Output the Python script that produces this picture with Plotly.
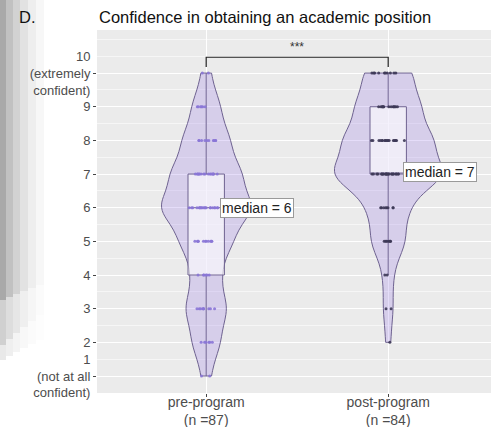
import numpy as np
import plotly.graph_objects as go

# ---------------- data ----------------
ratings = [1, 2, 3, 4, 5, 6, 7, 8, 9, 10]
pre_counts = [2, 6, 9, 6, 11, 20, 15, 10, 6, 2]      # n = 87
post_counts = [0, 1, 2, 2, 7, 8, 23, 18, 13, 10]     # n = 84
groups = ["pre-program", "post-program"]
group_n = [87, 84]
medians = [6, 7]
y_tick_labels = ["1<br>(not at all<br>confident)", "2", "3", "4", "5", "6", "7", "8", "9",
                 "10<br>(extremely<br>confident)"]
signif_label = "***"
bracket_low, bracket_high = 10.18, 10.47

pre_vals = np.repeat(ratings, pre_counts)
post_vals = np.repeat(ratings, post_counts)

# ---------------- styles ----------------
FONT = "Liberation Sans, Arial, sans-serif"
violin_fill = "rgba(150,120,230,0.25)"
outline = "#6e6290"
box_fill = "rgba(255,255,255,0.62)"
pt_colors = ["#8a76d6", "#3d3957"]
violin_widths = [0.49, 0.59]

fig = go.Figure()

for i, vals in enumerate([pre_vals, post_vals]):
    fig.add_trace(go.Violin(
        y=vals, x0=i + 1, width=violin_widths[i], spanmode="hard", bandwidth=0.5,
        fillcolor=violin_fill, line=dict(color=outline, width=1),
        points=False, box_visible=False, meanline_visible=False,
        hoverinfo="skip", showlegend=False))

for i, vals in enumerate([pre_vals, post_vals]):
    fig.add_trace(go.Box(
        y=vals, x0=i + 1, width=0.2, boxpoints="all", jitter=0.95, pointpos=0,
        marker=dict(size=3, color=pt_colors[i], opacity=0.9),
        fillcolor=box_fill, line=dict(color=outline, width=1), whiskerwidth=0,
        hoverinfo="skip", showlegend=False))

# significance bracket
fig.add_trace(go.Scatter(
    x=[1, 1, 2, 2], y=[bracket_low, bracket_high, bracket_high, bracket_low],
    mode="lines", line=dict(color="#222222", width=1.2), hoverinfo="skip",
    showlegend=False))

annotations = [
    dict(x=1.5, y=10.78, text=signif_label, showarrow=False, xref="x", yref="y",
         font=dict(family=FONT, size=12, color="#333333")),
]
label_x = [1.077, 2.082]
label_y = [6.0, 7.05]
for i, m in enumerate(medians):
    annotations.append(dict(
        x=label_x[i], y=label_y[i], xref="x", yref="y", xanchor="left", yanchor="middle",
        text=f"median = {m}", showarrow=False, bgcolor="white", bordercolor="#9a9a9a",
        borderwidth=1, borderpad=1, font=dict(family=FONT, size=14, color="#222222")))

# titles
W, H = 491, 427
L, R, T, B = 97, 0, 30, 34
pw, ph = W - L - R, H - T - B
def px_x(p):
    return (p - L) / pw
def px_y(p):
    return (H - B - p) / ph

annotations.append(dict(x=px_x(97), y=px_y(17), xref="paper", yref="paper", xanchor="left",
                        yanchor="middle", text="Confidence in obtaining an academic position",
                        showarrow=False, font=dict(family=FONT, size=16.5, color="#111111")))
annotations.append(dict(x=px_x(17), y=px_y(17), xref="paper", yref="paper", xanchor="left",
                        yanchor="middle", text="D.", showarrow=False,
                        font=dict(family=FONT, size=16.5, color="#111111")))

# left scan shading (decoration)
shapes = []
cols = [(0, 6, "#a9a9a9"), (6, 13, "#c1c1c1"), (13, 20, "#d2d2d2"), (20, 28, "#e2e2e2"),
        (28, 36, "#eeeeee"), (36, 44, "#f7f7f7")]
for k, (a, b, c) in enumerate(cols):
    shapes.append(dict(type="rect", xref="paper", yref="paper", x0=px_x(a), x1=px_x(b),
                       y0=px_y(0), y1=px_y(285 + 6 * (5 - k) // 2), fillcolor=c,
                       line=dict(width=0), layer="below"))
    shapes.append(dict(type="rect", xref="paper", yref="paper", x0=px_x(a), x1=px_x(b),
                       y0=px_y(285 + 6 * (5 - k) // 2), y1=px_y(315 + 6 * (5 - k)),
                       fillcolor=c, opacity=0.55, line=dict(width=0), layer="below"))
    shapes.append(dict(type="rect", xref="paper", yref="paper", x0=px_x(a), x1=px_x(b),
                       y0=px_y(315 + 6 * (5 - k)), y1=px_y(340 + 4 * (5 - k)),
                       fillcolor=c, opacity=0.25, line=dict(width=0), layer="below"))

fig.update_layout(
    width=W, height=H, margin=dict(l=L, r=R, t=T, b=B, pad=0, autoexpand=False),
    paper_bgcolor="white", plot_bgcolor="#ebebeb",
    font=dict(family=FONT, color="#4d4d4d"),
    annotations=annotations, shapes=shapes, showlegend=False,
    xaxis=dict(range=[0.4, 0.4 + pw / 182.0], tickmode="array", tickvals=[1, 2],
               ticktext=[f"{g}<br>(n ={n})" for g, n in zip(groups, group_n)],
               showgrid=True, gridcolor="white", gridwidth=1.1, zeroline=False,
               ticks="outside", ticklen=3, tickcolor="#444444", automargin=False,
               ticklabelstandoff=-7,
               tickfont=dict(family=FONT, size=14, color="#4d4d4d"), showline=False),
    yaxis=dict(range=[0.495, 11.28], tickmode="array", tickvals=ratings,
               ticktext=y_tick_labels, showgrid=True, gridcolor="white", gridwidth=1.1,
               zeroline=False, ticks="outside", ticklen=3, tickcolor="#444444",
               automargin=False,
               tickfont=dict(family=FONT, size=13, color="#4d4d4d"), showline=False,
               minor=dict(tickmode="linear", tick0=0.5, dtick=0.5, showgrid=True,
                          gridcolor="#f6f6f6", gridwidth=0.6, ticks="")),
)

fig.write_html("out.html", config={"displayModeBar": False},
               post_script="document.body.style.margin='0px';"
                           "document.body.style.overflow='hidden';")
